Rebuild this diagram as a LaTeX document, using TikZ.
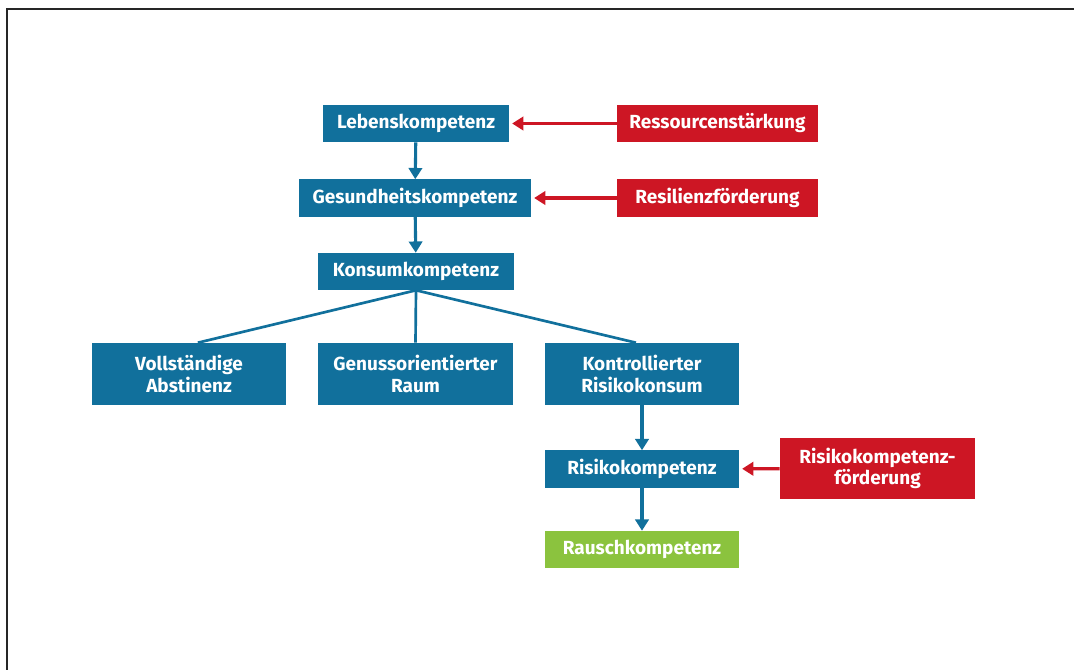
\documentclass[tikz,border=0pt]{standalone}
\usepackage{fontspec}
\setmainfont{Fira Sans}
\usetikzlibrary{arrows.meta, positioning}

\definecolor{kompblau}{RGB}{17,112,156}
\definecolor{foerderrot}{RGB}{205,22,36}
\definecolor{rauschgruen}{RGB}{139,195,62}

\tikzset{
  kompbox/.style={rectangle,fill=kompblau,text=white,align=center,
                  font=\fontsize{13.5}{15.5}\selectfont\bfseries,
                  minimum height=0.925cm,inner sep=2pt},
  foerderbox/.style={kompbox,fill=foerderrot,minimum width=5.0cm},
  zielbox/.style={kompbox,fill=rauschgruen},
  blaupfeil/.style={draw=kompblau,line width=2.2pt,
                    -{Triangle[length=8pt,width=9.5pt]}},
  rotpfeil/.style={draw=foerderrot,line width=2.2pt,shorten >=2pt,
                   -{Triangle[length=8pt,width=9.5pt]}},
  ast/.style={draw=kompblau,line width=1.9pt}
}

\begin{document}
\begin{tikzpicture}[x=0.025cm,y=-0.025cm]
    \useasboundingbox (0,0) rectangle (1074,670);
    \draw[line width=1.4pt,black!85](7,670)--(7,9)--(1074,9);
    % Kompetenzkette oben
    \node[kompbox,minimum width=4.65cm](leben)at(416,123.5){Lebenskompetenz};
    \node[kompbox,minimum width=5.8cm](gesund)at(415,198){Gesundheitskompetenz};
    \node[kompbox,minimum width=4.9cm](konsum)at(416,271.5){Konsumkompetenz};
    % Foerderung
    \node[foerderbox](ressourcen)at(717.5,123.5){Ressourcenstärkung};
    \node[foerderbox](resilienz)at(717.5,198){Resilienzförderung};
    % Konsumformen
    \node[kompbox,minimum width=4.85cm,minimum height=1.55cm](abstinenz)
         at(189,374){Vollständige\\Abstinenz};
    \node[kompbox,minimum width=4.85cm,minimum height=1.55cm](genuss)
         at(415.5,374){Genussorientierter\\Raum};
    \node[kompbox,minimum width=4.85cm,minimum height=1.55cm](risikokonsum)
         at(642,374){Kontrollierter\\Risikokonsum};
    % Risiko und Rausch
    \node[kompbox,minimum width=4.85cm](risiko)at(642,469){Risikokompetenz};
    \node[zielbox,minimum width=4.85cm](rausch)at(642,549.5){Rauschkompetenz};
    \node[foerderbox,minimum width=4.875cm,minimum height=1.525cm](risikofoerd)
         at(877.5,468.5){Risikokompetenz-\\förderung};
    % Verbindungen
    \draw[blaupfeil](leben)--(gesund);
    \draw[blaupfeil](gesund)--(konsum);
    \draw[ast](konsum.south)--([xshift=0.22cm]abstinenz.north);
    \draw[ast](konsum.south)--(genuss.north);
    \draw[ast](konsum.south)--([xshift=-0.15cm]risikokonsum.north);
    \draw[blaupfeil](risikokonsum)--(risiko);
    \draw[blaupfeil](risiko)--(rausch);
    \draw[rotpfeil](ressourcen)--(leben);
    \draw[rotpfeil](resilienz)--(gesund);
    \draw[rotpfeil](risikofoerd)--(risiko);
\end{tikzpicture}
\end{document}
